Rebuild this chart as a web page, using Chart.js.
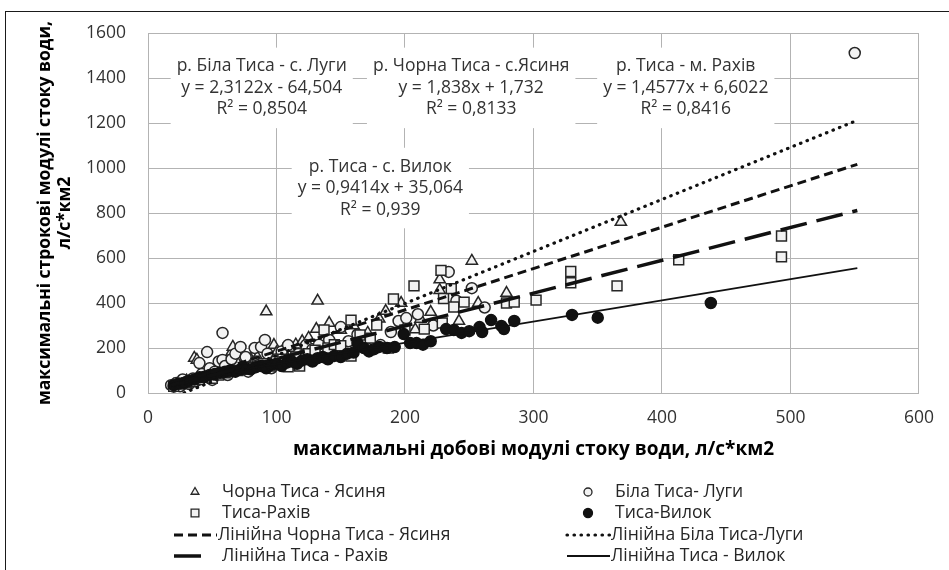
<!DOCTYPE html>
<html>
<head>
<meta charset="utf-8">
<script src="https://cdn.jsdelivr.net/npm/chart.js@4.4.0/dist/chart.umd.min.js"></script>
<style>
  html, body { margin: 0; padding: 0; background: #fff; overflow: hidden; }
  #wrap { position: relative; width: 949px; height: 570px; overflow: hidden; }
  #frame { position: absolute; left: 5px; top: 11px; width: 1000px; height: 1000px; border: 1.5px solid #1a1a1a; box-sizing: border-box; }
  canvas { position: absolute; left: 0; top: 0; }
</style>
</head>
<body>
<div id="wrap">
  <div id="frame"></div>
  <canvas id="chart" width="949" height="570"></canvas>
</div>
<script>
const FONT = '"Open Sans", Lato, sans-serif';
const TXT = 17.5;     // regular text size
const X_BOLD = 19;    // x axis title
const Y_BOLD = 17.5;  // y axis title

// --- series names ---
const seriesNames = ['Чорна Тиса - Ясиня', 'Біла Тиса- Луги', 'Тиса-Рахів', 'Тиса-Вилок'];
const trendNames = ['Лінійна Чорна Тиса - Ясиня', 'Лінійна Біла Тиса-Луги', 'Лінійна Тиса - Рахів', 'Лінійна Тиса - Вилок'];

// --- scatter points [x, y] ---
const chornaYasynia = [
  [20, 35], [25, 45], [30, 55], [36, 156], [38, 147], [40, 75], [45, 90], [50, 95], [55, 110],
  [60, 115], [65, 182], [66, 205], [70, 130], [75, 140], [80, 150], [85, 160], [92, 362], [98, 213],
  [100, 180], [105, 190], [110, 200], [115, 215], [120, 230], [125, 245], [131, 284], [132, 410],
  [141, 311], [150, 280], [160, 300], [171, 267], [180, 330], [185, 364], [197, 400], [208, 282],
  [212, 329], [220, 360], [227, 457], [227, 504], [242, 320], [252, 587], [257, 400], [279, 444],
  [368, 760]
];
const bilaLuhy = [
  [18, 35], [20, 28], [22, 45], [25, 30], [27, 60], [30, 50], [32, 40], [35, 65], [38, 55], [40, 133],
  [42, 85], [46, 182], [48, 110], [50, 58], [52, 95], [55, 140], [58, 267], [58, 147], [60, 120],
  [62, 80], [65, 150], [68, 175], [72, 205], [74, 115], [76, 160], [78, 95], [83, 200], [84, 140],
  [86, 125], [88, 205], [91, 236], [93, 175], [96, 110], [100, 150], [104, 185], [109, 213], [112, 125],
  [117, 173], [120, 165], [123, 213], [128, 195], [133, 215], [141, 236], [145, 185], [150, 293],
  [156, 230], [163, 260], [170, 200], [181, 213], [189, 271], [195, 320], [201, 333], [210, 350],
  [222, 300], [234, 538], [240, 410], [252, 466], [262, 380], [550, 1511]
];
const tysaRakhiv = [
  [20, 30], [25, 40], [30, 45], [35, 50], [40, 60], [45, 70], [50, 65], [55, 80], [60, 90], [65, 95],
  [70, 100], [75, 105], [80, 115], [85, 120], [90, 130], [95, 120], [100, 140], [105, 150], [109, 116],
  [115, 160], [118, 120], [125, 175], [130, 190], [137, 280], [140, 200], [145, 215], [150, 210],
  [158, 164], [158, 324], [165, 258], [173, 244], [178, 302], [187, 200], [191, 418], [200, 280],
  [207, 476], [215, 284], [228, 545], [229, 311], [230, 420], [236, 464], [238, 382], [246, 404],
  [279, 400], [285, 404], [302, 413], [329, 540], [329, 490], [365, 476], [413, 592], [493, 698],
  [493, 605]
];
const tysaVylok = [
  [20, 35], [24, 42], [28, 45], [32, 55], [36, 60], [40, 70], [44, 72], [48, 80], [52, 85], [56, 90],
  [60, 95], [64, 100], [68, 95], [72, 105], [76, 110], [80, 105], [84, 115], [88, 120], [92, 110],
  [96, 125], [100, 130], [104, 120], [108, 135], [112, 140], [116, 130], [120, 145], [124, 150],
  [128, 140], [132, 155], [136, 160], [140, 150], [145, 165], [150, 160], [155, 175], [160, 180],
  [163, 222], [168, 200], [172, 185], [176, 195], [180, 205], [186, 200], [192, 204], [199, 262],
  [204, 222], [209, 222], [214, 215], [220, 230], [232, 284], [238, 280], [244, 267], [250, 275],
  [258, 293], [260, 271], [267, 324], [275, 298], [277, 284], [285, 320], [330, 347], [350, 335],
  [438, 400]
];

// --- linear trend coefficients (slope, intercept) and the x span they cover ---
const trendSlopes = [1.838, 2.3122, 1.4577, 0.9414];
const trendIntercepts = [1.732, -64.504, 6.6022, 35.064];
const trendSpan = [18, 552];

// --- trend label texts ---
const trendLabelText = [
  ['р. Біла Тиса - с. Луги', 'y = 2,3122x - 64,504', 'R² = 0,8504'],
  ['р. Чорна Тиса - с.Ясиня', 'y = 1,838x + 1,732', 'R² = 0,8133'],
  ['р. Тиса - м. Рахів', 'y = 1,4577x + 6,6022', 'R² = 0,8416'],
  ['р. Тиса - с. Вилок', 'y = 0,9414x + 35,064', 'R² = 0,939']
];

// --- axis ---
const xMin = 0, xMax = 600, xStep = 100;
const yMin = 0, yMax = 1600, yStep = 200;
const xTitle = 'максимальні добові модулі стоку води, л/с*км2';
const yTitle = ['максимальні строкові модулі стоку води,', 'л/с*км2'];

const toPts = arr => arr.map(([x, y]) => ({ x, y }));
const trendLine = i => trendSpan.map(x => ({ x, y: trendSlopes[i] * x + trendIntercepts[i] }));

const OPEN_FILL = '#f2f2f2';
const EDGE = '#262626';

const markerStyles = [
  { pointStyle: 'triangle', pointRadius: 6.5, backgroundColor: OPEN_FILL, borderColor: EDGE },
  { pointStyle: 'circle', pointRadius: 5.5, backgroundColor: OPEN_FILL, borderColor: EDGE },
  { pointStyle: 'rect', pointRadius: 7, backgroundColor: OPEN_FILL, borderColor: EDGE },
  { pointStyle: 'circle', pointRadius: 5.5, backgroundColor: '#111', borderColor: '#111' }
];
const lineStyles = [
  { borderDash: [9, 5], borderWidth: 3, borderCapStyle: 'butt' },
  { borderDash: [0.5, 6.5], borderWidth: 3.2, borderCapStyle: 'round' },
  { borderDash: [27, 10], borderWidth: 3.5, borderCapStyle: 'butt' },
  { borderDash: [], borderWidth: 1.8, borderCapStyle: 'butt' }
];

const pointSeries = [chornaYasynia, bilaLuhy, tysaRakhiv, tysaVylok];

const datasets = [];
pointSeries.forEach((pts, i) => {
  datasets.push({
    label: seriesNames[i],
    data: toPts(pts),
    showLine: false,
    borderWidth: 1.5,
    order: 4 - i + 1,
    ...markerStyles[i]
  });
});
trendNames.forEach((name, i) => {
  datasets.push({
    label: name,
    data: trendLine(i),
    showLine: true,
    pointRadius: 0,
    borderColor: '#111',
    fill: false,
    order: 0,
    ...lineStyles[i]
  });
});

// Trend equation boxes (centres in data units)
const trendLabels = {
  id: 'trendLabels',
  afterDatasetsDraw(chart) {
    const { ctx, scales: { x, y } } = chart;
    const anchors = [[88.5, 1356], [251.5, 1356], [418.5, 1356], [180.8, 911]];
    const lineH = 21.5;
    ctx.save();
    ctx.font = `${TXT}px ${FONT}`;
    ctx.textAlign = 'center';
    ctx.textBaseline = 'middle';
    trendLabelText.forEach((lines, i) => {
      const cx = x.getPixelForValue(anchors[i][0]);
      const cy = y.getPixelForValue(anchors[i][1]);
      const w = Math.max(...lines.map(l => ctx.measureText(l).width)) + 12;
      const h = lines.length * lineH + 16;
      ctx.fillStyle = '#fff';
      ctx.fillRect(cx - w / 2, cy - h / 2, w, h);
      ctx.fillStyle = '#333';
      lines.forEach((l, j) => ctx.fillText(l, cx, cy + (j - (lines.length - 1) / 2) * lineH));
    });
    ctx.restore();
  }
};

// Two-column legend, Excel style
const legend2col = {
  id: 'legend2col',
  afterDraw(chart) {
    const { ctx } = chart;
    const cols = [174, 567];
    const rows = [492, 513, 535, 556];
    const symW = 43;
    const legendMarkR = [4.5, 4, 5.5, 4.5];
    ctx.save();
    ctx.font = `${TXT}px ${FONT}`;
    ctx.textBaseline = 'middle';
    ctx.textAlign = 'left';
    const items = [];
    for (let i = 0; i < 4; i++) items.push({ kind: 'mark', i });
    for (let i = 0; i < 4; i++) items.push({ kind: 'line', i });
    items.forEach((it, k) => {
      const cx = cols[k % 2];
      const cy = rows[Math.floor(k / 2)];
      if (it.kind === 'mark') {
        const st = markerStyles[it.i];
        ctx.fillStyle = st.backgroundColor;
        ctx.strokeStyle = st.borderColor;
        ctx.lineWidth = 1.3;
        Chart.helpers.drawPoint(ctx, { pointStyle: st.pointStyle, radius: legendMarkR[it.i], rotation: 0, borderWidth: 1.3 }, cx + 21, cy);
        ctx.fillStyle = '#262626';
        ctx.fillText(seriesNames[it.i], cx + 48, cy);
      } else {
        const st = lineStyles[it.i];
        ctx.save();
        ctx.strokeStyle = '#111';
        ctx.lineWidth = st.borderWidth;
        ctx.lineCap = st.borderCapStyle;
        ctx.setLineDash(st.borderDash);
        const len = it.i === 2 ? 31 : symW;
        ctx.beginPath();
        ctx.moveTo(cx, cy);
        ctx.lineTo(cx + len, cy);
        ctx.stroke();
        ctx.restore();
        ctx.fillStyle = '#262626';
        ctx.fillText(trendNames[it.i], cx + (it.i === 2 ? 48 : 44), cy);
      }
    });
    ctx.restore();
  }
};

const GRID = '#b3b3b3';

new Chart(document.getElementById('chart'), {
  type: 'scatter',
  data: { datasets },
  options: {
    responsive: false,
    animation: false,
    devicePixelRatio: 1,
    layout: { padding: { left: 0, right: 21, top: 33, bottom: 100 } },
    plugins: {
      legend: { display: false },
      tooltip: { enabled: false }
    },
    scales: {
      x: {
        type: 'linear',
        min: xMin,
        max: xMax,
        ticks: { stepSize: xStep, color: '#333', font: { family: FONT, size: TXT, lineHeight: 1.2 }, padding: 15, callback: v => String(v) },
        grid: { color: GRID, drawTicks: false },
        border: { color: GRID },
        title: {
          display: true,
          text: xTitle,
          color: '#000',
          font: { family: FONT, size: X_BOLD, weight: 'bold', lineHeight: 1.1 },
          padding: { top: 0, bottom: 10 }
        },
        afterFit: s => { s.height = 77; }
      },
      y: {
        type: 'linear',
        min: yMin,
        max: yMax,
        ticks: { stepSize: yStep, color: '#333', font: { family: FONT, size: TXT }, padding: 22, callback: v => String(v) },
        grid: { color: GRID, drawTicks: false },
        border: { color: GRID },
        title: {
          display: true,
          text: yTitle,
          color: '#000',
          font: { family: FONT, size: Y_BOLD, weight: 'bold', lineHeight: 1.15 },
          padding: { top: 35, bottom: 0 }
        },
        afterFit: s => { s.width = 148; }
      }
    }
  },
  plugins: [trendLabels, legend2col]
});
</script>
</body>
</html>
